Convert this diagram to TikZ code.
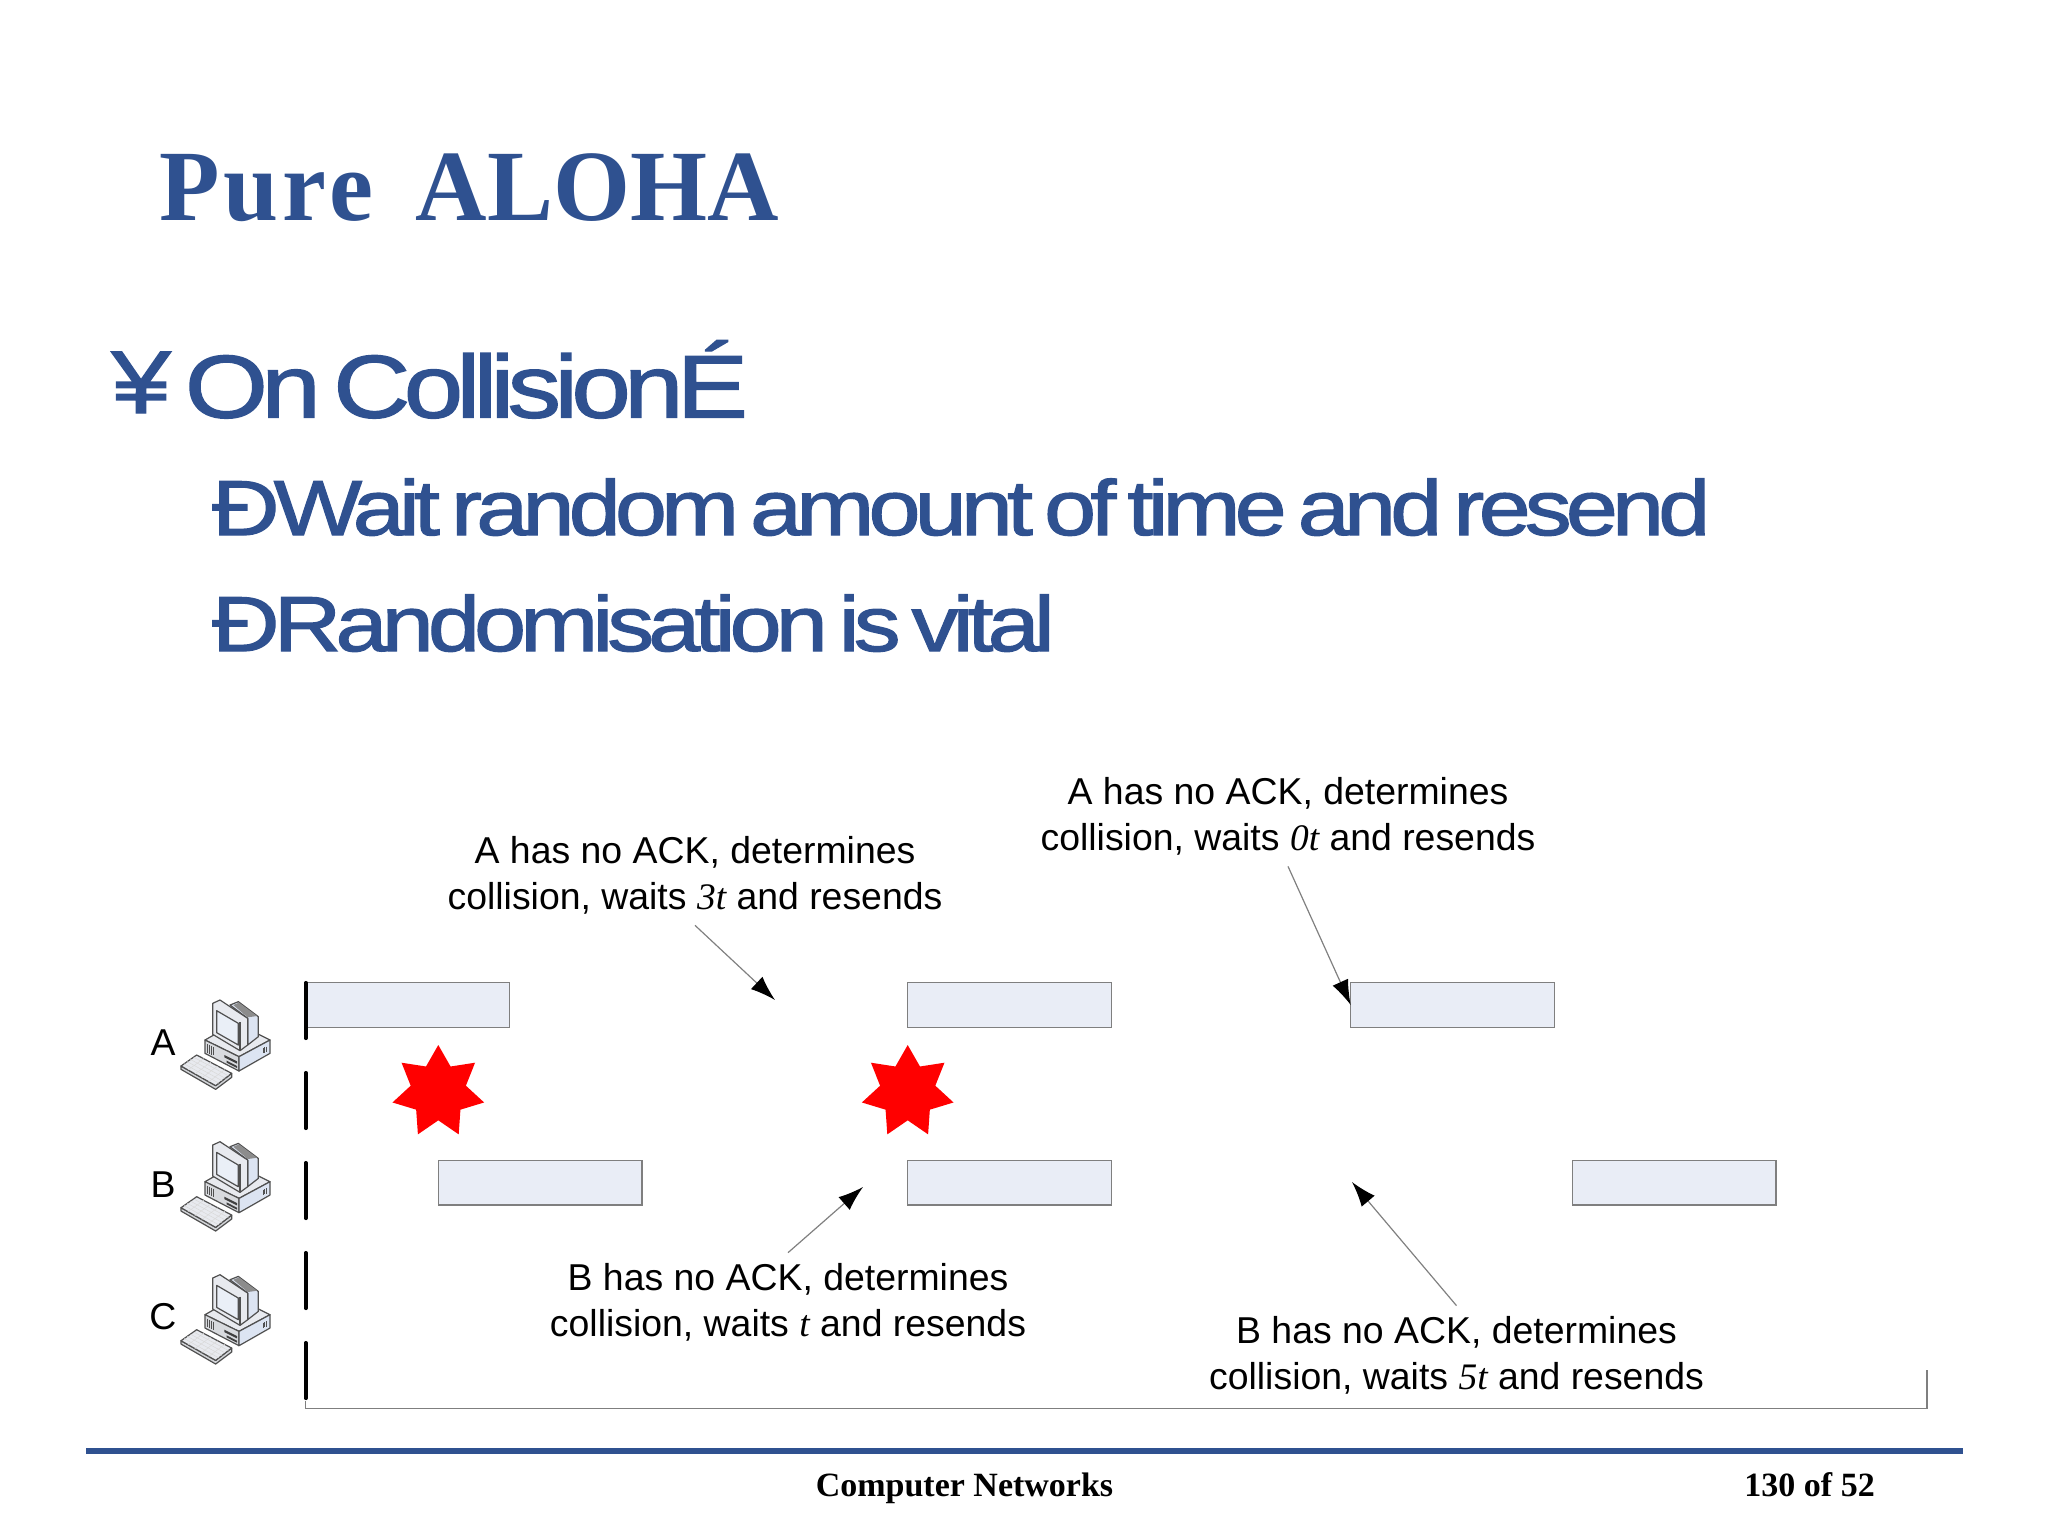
\documentclass[tikz,border=0pt]{standalone}
\usepackage{fontspec}
\setmainfont{Liberation Sans}
\newfontfamily\titlefont[FakeStretch=0.98]{Liberation Serif}
\newfontfamily\footfont{Liberation Serif}
\newfontfamily\slidefont[FakeStretch=1.2,LetterSpace=-7.5,WordSpace=0.55,FakeBold=1.6]{Liberation Sans}
\newcommand{\waitfor}[1]{{\footfont\itshape #1}}
\usetikzlibrary{arrows.meta,shapes.geometric,calc}
\definecolor{slideblue}{HTML}{2F5190}
\definecolor{barfill}{HTML}{E9EDF6}
\definecolor{bargray}{HTML}{7F7F7F}
\definecolor{casefill}{HTML}{E8EAEF}
\definecolor{sidefill}{HTML}{DCE4F2}
\definecolor{caseline}{HTML}{505050}

\begin{document}
\begin{tikzpicture}[x=0.5pt,y=-0.5pt]
		\tikzset{framebar/.style={draw=bargray,fill=barfill,line width=0.75pt,minimum width=101.8pt,minimum height=22.3pt,inner sep=0pt,outer sep=0pt,anchor=north west}};
		\tikzset{burst/.style={star,star points=7,star point ratio=1.66,fill=red,minimum size=47pt,inner sep=0pt,outer sep=0pt}};
		\tikzset{note/.style={align=center,inner sep=0pt,outer ysep=5.5pt,font=\fontsize{18.7}{22.9}\selectfont}};
		\tikzset{notearrow/.style={draw=black!50,line width=0.6pt,-{Latex[length=12.5pt,width=8.5pt,black]}}};
		\tikzset{slideline/.style={anchor=base west,inner sep=0pt,text=slideblue}};
		\tikzset{station/.style={anchor=center,inner sep=0pt,font=\fontsize{18.7}{22.9}\selectfont}};
		\tikzset{workstation/.pic={
			\begin{scope}[scale=1/3,draw=caseline,line width=0.6pt,line join=round]
			% case
			\filldraw[fill=casefill] (90,150)--(125,130)--(245,130)--(285,150)--(192,200)--cycle;
			\filldraw[fill=casefill!85!gray] (90,150)--(192,200)--(192,243)--(90,190)--cycle;
			\filldraw[fill=sidefill] (192,200)--(285,150)--(285,190)--(192,243)--cycle;
			\foreach \v in {0,4,8,12}
				\draw[line width=0.4pt] (98+\v*1.4,162+\v*0.7)--(98+\v*1.4,188+\v*0.7);
			\foreach \v in {0,4,8}
				\draw[line width=0.4pt] (265+\v,174-\v*0.5)--(265+\v,190-\v*0.5);
			\fill[black!75] (148,195)--(186,214)--(186,221)--(148,202)--cycle;
			\fill[black!75] (155,212)--(186,228)--(186,234)--(155,218)--cycle;
			% monitor
			\filldraw[fill=sidefill] (165,45)--(190,35)--(250,80)--(250,140)--(218,165)--(218,85)--cycle;
			\fill[black!45] (175,45)--(192,38)--(246,78)--(218,82)--cycle;
			\filldraw[fill=casefill] (113,40)--(135,30)--(218,85)--(218,165)--(195,182)--(113,133)--cycle;
			\draw (195,96)--(195,182);
			\filldraw[fill=sidefill!60] (125,62)--(190,100)--(190,165)--(125,128)--cycle;
			% keyboard
			\filldraw[fill=casefill!80!gray] (18,228)--(18,238)--(122,298)--(170,262)--(170,250)--(122,287)--cycle;
			\filldraw[fill=casefill] (18,228)--(65,195)--(170,250)--(122,287)--cycle;
			\foreach \v in {0.2,0.4,0.6,0.8}
				\draw[line width=0.25pt,draw=black!15] ($(18,228)!\v!(65,195)$)--($(122,287)!\v!(170,250)$);
			\foreach \v in {0.2,0.4,0.6,0.8}
				\draw[line width=0.25pt,draw=black!15] ($(18,228)!\v!(122,287)$)--($(65,195)!\v!(170,250)$);
			\end{scope}
		}};
		\useasboundingbox (0,0) rectangle (2048,1536);
		% slide text
		\node[slideline] (title) at (159,220.5) {\titlefont\bfseries\fontsize{50.5}{60}\selectfont{\addfontfeature{LetterSpace=4}Pure}\hspace{9pt} ALOHA};
		\node[slideline] (bulletmark) at (111,413) {\slidefont\fontsize{44.5}{50}\selectfont ¥};
		\node[slideline] (heading) at (184.5,417.5) {\slidefont\fontsize{44.5}{50}\selectfont On CollisionÉ};
		\node[slideline] (waitline) at (211.6,535) {\slidefont\fontsize{39}{45}\selectfont ÐWait random amount of time and resend};
		\node[slideline] (randline) at (211.6,651) {\slidefont\fontsize{39}{45}\selectfont ÐRandomisation is vital};
		% stations
		\foreach \name/\off/\ylab in {A/0/1042.7,B/141.7/1185,C/274.7/1317}{
			\pic at (175,990+\off) {workstation};
			\node[station] (label\name) at (163,\ylab) {\name};
		}
		% frames
		\node[framebar] (a1) at (305.7,982.7) {};
		\node[framebar] (a2) at (907.7,982.7) {};
		\node[framebar] (a3) at (1350.7,982.7) {};
		\node[framebar] (b1) at (438.3,1160.3) {};
		\node[framebar] (b2) at (907.7,1160.3) {};
		\node[framebar] (b3) at (1572.3,1160.3) {};
		\node[burst] (burstone) at (438.3,1092) {};
		\node[burst] (bursttwo) at (907.7,1092) {};
		% time axis
		\coordinate (axistop) at (305.7,983);
		\coordinate (axisend) at (305.7,1401);
		\coordinate (axiscorner) at (305.7,1408.5);
		\coordinate (axisright) at (1927,1408.5);
		\coordinate (axisstop) at (1927,1370);
		\draw[bargray,line width=0.75pt] (axisend)--(axiscorner)--(axisright)--(axisstop);
		\draw[black,line width=2.1pt,line cap=round,dash pattern=on 27.5pt off 17.5pt] (axistop)--(axisend);
		% notes
		\node[note] (notea) at (695,875.5) {A has no ACK, determines\\collision, waits \waitfor{3t} and resends};
		\node[note] (noteb) at (1288,816.5) {A has no ACK, determines\\collision, waits \waitfor{0t} and resends};
		\node[note] (notec) at (788,1302.5) {B has no ACK, determines\\collision, waits \waitfor{t} and resends};
		\node[note] (noted) at (1456.5,1355.5) {B has no ACK, determines\\collision, waits \waitfor{5t} and resends};
		\coordinate (tipa) at (775,1000);
		\coordinate (tipc) at (863,1187);
		\coordinate (tipd) at (1352,1182);
		\draw[notearrow] (notea.south)--(tipa);
		\draw[notearrow] (noteb.south)--(a3.west);
		\draw[notearrow] (notec.north)--(tipc);
		\draw[notearrow] (noted.north)--(tipd);
		% footer
		\coordinate (ruleleft) at (86,1450.7);
		\coordinate (ruleright) at (1962.6,1450.7);
		\draw[slideblue,line width=3pt] (ruleleft)--(ruleright);
		\node[anchor=base,inner sep=0pt] (footname) at (964.5,1496) {\footfont\bfseries\fontsize{17}{20}\selectfont Computer Networks};
		\node[anchor=base west,inner sep=0pt] (footpage) at (1744,1496) {\footfont\bfseries\fontsize{17}{20}\selectfont 130 of 52};
	\end{tikzpicture}
\end{document}
